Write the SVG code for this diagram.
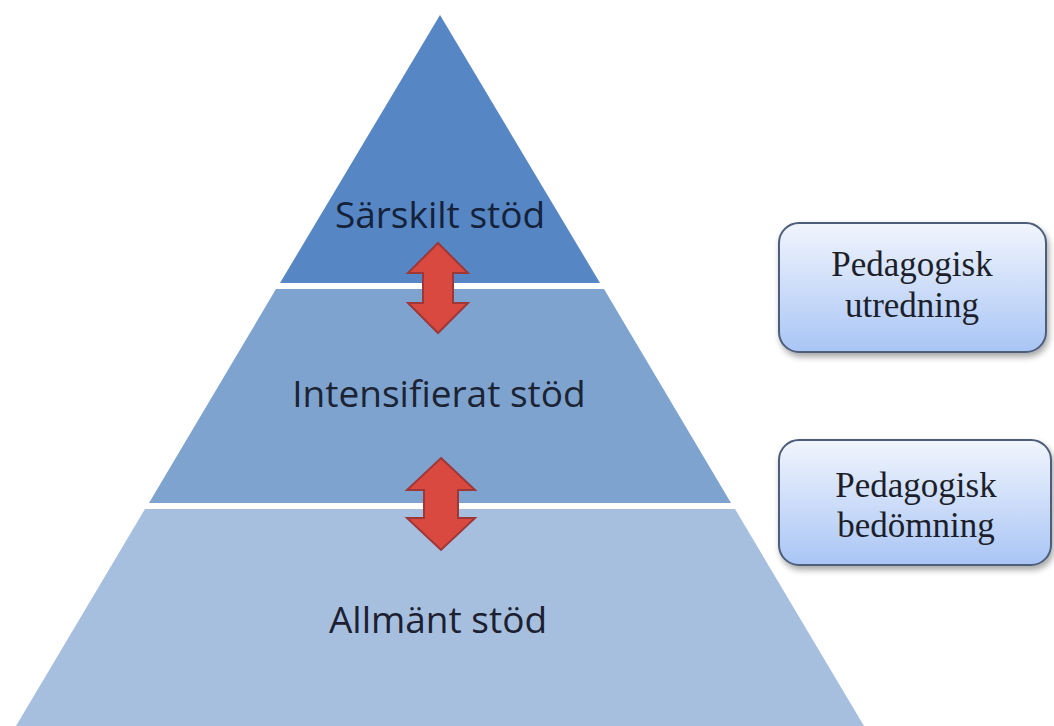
<svg xmlns="http://www.w3.org/2000/svg" width="1054" height="726" viewBox="0 0 1054 726">
  <style>
    .tier-label { font-family: "Open Sans", "Liberation Sans", sans-serif; font-size: 37px; text-anchor: middle; }
    .box-label { font-family: "Liberation Serif", "Times New Roman", serif; font-size: 35px; text-anchor: middle; fill: #1c1f2b; }
    .box { fill: url(#boxFill); stroke: #4d5d7a; stroke-width: 2; filter: url(#boxShadow); }
    .updown { fill: #d9493f; stroke: #9e3838; stroke-width: 2; stroke-linejoin: miter; }
  </style>
  <defs>
    <linearGradient id="boxFill" x1="0" y1="0" x2="0" y2="1">
      <stop offset="0" stop-color="#f1f5fd"/>
      <stop offset="1" stop-color="#a9c5f5"/>
    </linearGradient>
    <filter id="boxShadow" x="-10%" y="-10%" width="125%" height="135%">
      <feGaussianBlur in="SourceAlpha" stdDeviation="3"/>
      <feOffset dx="2" dy="4" result="blur"/>
      <feComponentTransfer><feFuncA type="linear" slope="0.35"/></feComponentTransfer>
      <feMerge><feMergeNode/><feMergeNode in="SourceGraphic"/></feMerge>
    </filter>
  </defs>

  <rect width="1054" height="726" fill="#ffffff"/>

  <!-- pyramid tiers -->
  <g id="tier-sarskilt">
    <polygon points="440,15 600,283 280,283" fill="#5686c4"/>
    <text class="tier-label" x="440" y="228" fill="#15223a">Särskilt stöd</text>
  </g>
  <g id="tier-intensifierat">
    <polygon points="276,289 604,289 731,503 149,503" fill="#7fa3cf"/>
    <text class="tier-label" x="439" y="407" fill="#1c2333">Intensifierat stöd</text>
  </g>
  <g id="tier-allmant">
    <polygon points="145,509 735,509 864,726 16,726" fill="#a6bfde"/>
    <text class="tier-label" x="438" y="633" fill="#1c2030">Allmänt stöd</text>
  </g>

  <!-- side boxes -->
  <g id="box-utredning">
    <rect class="box" x="779" y="223" width="267" height="129" rx="20" ry="20"/>
    <text class="box-label" x="912" y="276">Pedagogisk</text>
    <text class="box-label" x="912" y="317">utredning</text>
  </g>
  <g id="box-bedomning">
    <rect class="box" x="779" y="440" width="272" height="125" rx="20" ry="20"/>
    <text class="box-label" x="916" y="497">Pedagogisk</text>
    <text class="box-label" x="916" y="537">bedömning</text>
  </g>

  <!-- connectors: two-way arrows between tiers -->
  <g id="connectors">
    <polygon class="updown" points="438,243 468,273 453,273 453,303 468,303 438,333 408,303 423,303 423,273 408,273"/>
    <polygon class="updown" points="441,458 475,490 458,490 458,518 475,518 441,550 407,518 424,518 424,490 407,490"/>
  </g>
</svg>
